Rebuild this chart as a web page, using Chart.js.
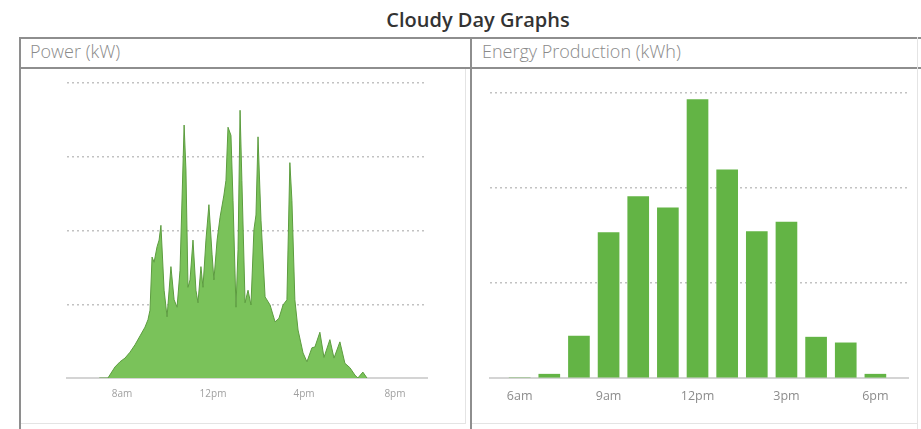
<!DOCTYPE html>
<html>
<head>
<meta charset="utf-8">
<script src="https://cdn.jsdelivr.net/npm/chart.js@4.4.1/dist/chart.umd.min.js"></script>
<style>
  html, body { margin: 0; padding: 0; background: #fff; }
  #page { position: relative; width: 921px; height: 429px; overflow: hidden; font-family: "Open Sans", sans-serif; }
  .title { position: absolute; left: 0; width: 956px; top: 6px; text-align: center; font-size: 20px; font-weight: 600; color: #333; line-height: 27px; white-space: nowrap; }
  .hline { position: absolute; height: 2px; background: #8e8e8e; }
  .vline { position: absolute; width: 2px; background: #8e8e8e; }
  .faint { background: #e4e4e4; }
  .head { position: absolute; top: 39px; font-size: 18px; font-weight: 300; color: #8a8a8a; line-height: 25px; white-space: nowrap; }
  .panel { position: absolute; }
  .panel canvas { display: block; }
</style>
</head>
<body>
<div id="page">
  <div class="title">Cloudy Day Graphs</div>

  <div class="hline" style="left:19px; width:902px; top:37px;"></div>
  <div class="hline" style="left:19px; width:902px; top:67px;"></div>
  <div class="vline" style="left:19px; top:37px; height:392px;"></div>
  <div class="vline" style="left:470px; top:37px; height:392px;"></div>
  <div class="vline faint" style="left:917px; top:37px; height:392px; width:1px;"></div>
  <div class="vline faint" style="left:465px; top:69px; height:355px; width:1px;"></div>
  <div class="hline faint" style="left:21px; width:444px; top:423px; height:1px;"></div>
  <div class="hline faint" style="left:472px; width:445px; top:423px; height:1px;"></div>

  <div class="head" style="left:30px;">Power (kW)</div>
  <div class="head" style="left:482px;">Energy Production (kWh)</div>

  <div class="panel" style="left:21px; top:70px;"><canvas id="powerChart" width="448" height="352"></canvas></div>
  <div class="panel" style="left:473px; top:70px;"><canvas id="energyChart" width="446" height="352"></canvas></div>
</div>

<script>
// Power output through the day (hour of day, kW)
const powerHours = [
  7.00, 7.38, 7.69, 7.91, 8.13, 8.35, 8.57, 8.79, 9.01, 9.14,
  9.23, 9.32, 9.41, 9.54, 9.63, 9.71, 9.85, 9.98, 10.15, 10.29,
  10.42, 10.55, 10.73, 10.81, 10.90, 10.99, 11.12, 11.25, 11.34, 11.47,
  11.56, 11.69, 11.82, 11.96, 12.04, 12.18, 12.31, 12.48, 12.57, 12.66,
  12.79, 12.88, 13.01, 13.10, 13.19, 13.27, 13.41, 13.54, 13.67, 13.80,
  13.89, 13.98, 14.11, 14.29, 14.51, 14.73, 14.90, 15.08, 15.25, 15.38,
  15.47, 15.60, 15.74, 15.96, 16.13, 16.35, 16.48, 16.70, 16.88, 17.14,
  17.32, 17.58, 17.80, 18.02, 18.24, 18.37, 18.59, 18.77
];
const powerKw = [
  0, 0, 0.15, 0.22, 0.27, 0.35, 0.45, 0.57, 0.69, 0.79,
  0.92, 1.64, 1.57, 1.78, 1.87, 2.07, 1.19, 0.83, 1.51, 1.06,
  0.96, 1.46, 3.43, 2.82, 1.23, 1.33, 1.87, 1.19, 1.02, 1.51,
  1.23, 1.87, 2.35, 1.67, 1.33, 1.87, 2.18, 2.48, 2.68, 3.40,
  3.29, 2.41, 0.96, 1.74, 3.63, 2.68, 1.02, 1.19, 0.99, 2.01,
  2.21, 3.27, 2.14, 1.10, 0.99, 0.76, 0.81, 0.99, 1.06, 2.92,
  2.41, 1.06, 0.65, 0.34, 0.22, 0.41, 0.42, 0.62, 0.28, 0.52,
  0.27, 0.49, 0.20, 0.14, 0.04, 0, 0.08, 0
];
const powerTickHours = [8, 12, 16, 20];
const powerTickLabels = ['8am', '12pm', '4pm', '8pm'];

// Hourly energy production (hour of day, kWh)
const energyHours = [6, 7, 8, 9, 10, 11, 12, 13, 14, 15, 16, 17, 18];
const energyKwh = [0, 0.04, 0.44, 1.53, 1.91, 1.79, 2.93, 2.19, 1.54, 1.64, 0.43, 0.37, 0.04];
const energyTickHours = [6, 9, 12, 15, 18];
const energyTickLabels = ['6am', '9am', '12pm', '3pm', '6pm'];

const gridColor = (ctx) => (ctx.tick && ctx.tick.value === 0) ? 'rgba(0,0,0,0)' : '#c2c2c2';

function fixedTicks(values, labels) {
  return {
    afterBuildTicks: (scale) => { scale.ticks = values.map(v => ({ value: v })); },
    callback: (value) => labels[values.indexOf(value)]
  };
}

function makeScales(xMin, xMax, yMax, tickVals, tickLabels, fontSize, tickColor, tickPad) {
  const t = fixedTicks(tickVals, tickLabels);
  return {
    x: {
      type: 'linear',
      min: xMin,
      max: xMax,
      offset: false,
      afterBuildTicks: t.afterBuildTicks,
      afterFit: (scale) => { scale.height = 30; },
      grid: { display: false, drawTicks: false, offset: false },
      border: { display: true, color: '#d4d4d4', width: 2 },
      ticks: {
        callback: t.callback,
        autoSkip: false,
        maxRotation: 0,
        padding: tickPad,
        color: tickColor,
        font: { family: '"Open Sans", sans-serif', size: fontSize }
      }
    },
    y: {
      min: 0,
      max: yMax,
      afterFit: (scale) => { scale.width = 0; },
      ticks: { stepSize: 1, display: false },
      grid: { color: gridColor, lineWidth: 1.5, drawTicks: false },
      border: { display: false, dash: [2, 3] }
    }
  };
}

const common = {
  responsive: false,
  animation: false,
  devicePixelRatio: 1,
  plugins: { legend: { display: false }, tooltip: { enabled: false }, title: { display: false } }
};

new Chart(document.getElementById('powerChart'), {
  type: 'line',
  data: {
    datasets: [{
      data: powerHours.map((h, i) => ({ x: h, y: powerKw[i] })),
      borderColor: '#5c9c3f',
      borderWidth: 1,
      backgroundColor: '#7ac25a',
      fill: 'origin',
      tension: 0,
      pointRadius: 0
    }]
  },
  options: Object.assign({}, common, {
    layout: { padding: { left: 46, right: 42, top: 13, bottom: 14 } },
    scales: makeScales(5.58, 21.41, 4, powerTickHours, powerTickLabels, 10, '#a0a0a0', 10)
  })
});

new Chart(document.getElementById('energyChart'), {
  type: 'bar',
  data: {
    datasets: [{
      data: energyHours.map((h, i) => ({ x: h, y: energyKwh[i] })),
      backgroundColor: '#63b445',
      borderWidth: 0,
      barThickness: 21
    }]
  },
  options: Object.assign({}, common, {
    layout: { padding: { left: 17, right: 11, top: 23, bottom: 14 } },
    scales: makeScales(5, 19.1, 3, energyTickHours, energyTickLabels, 12.5, '#8c8c8c', 11)
  })
});
</script>
</body>
</html>
